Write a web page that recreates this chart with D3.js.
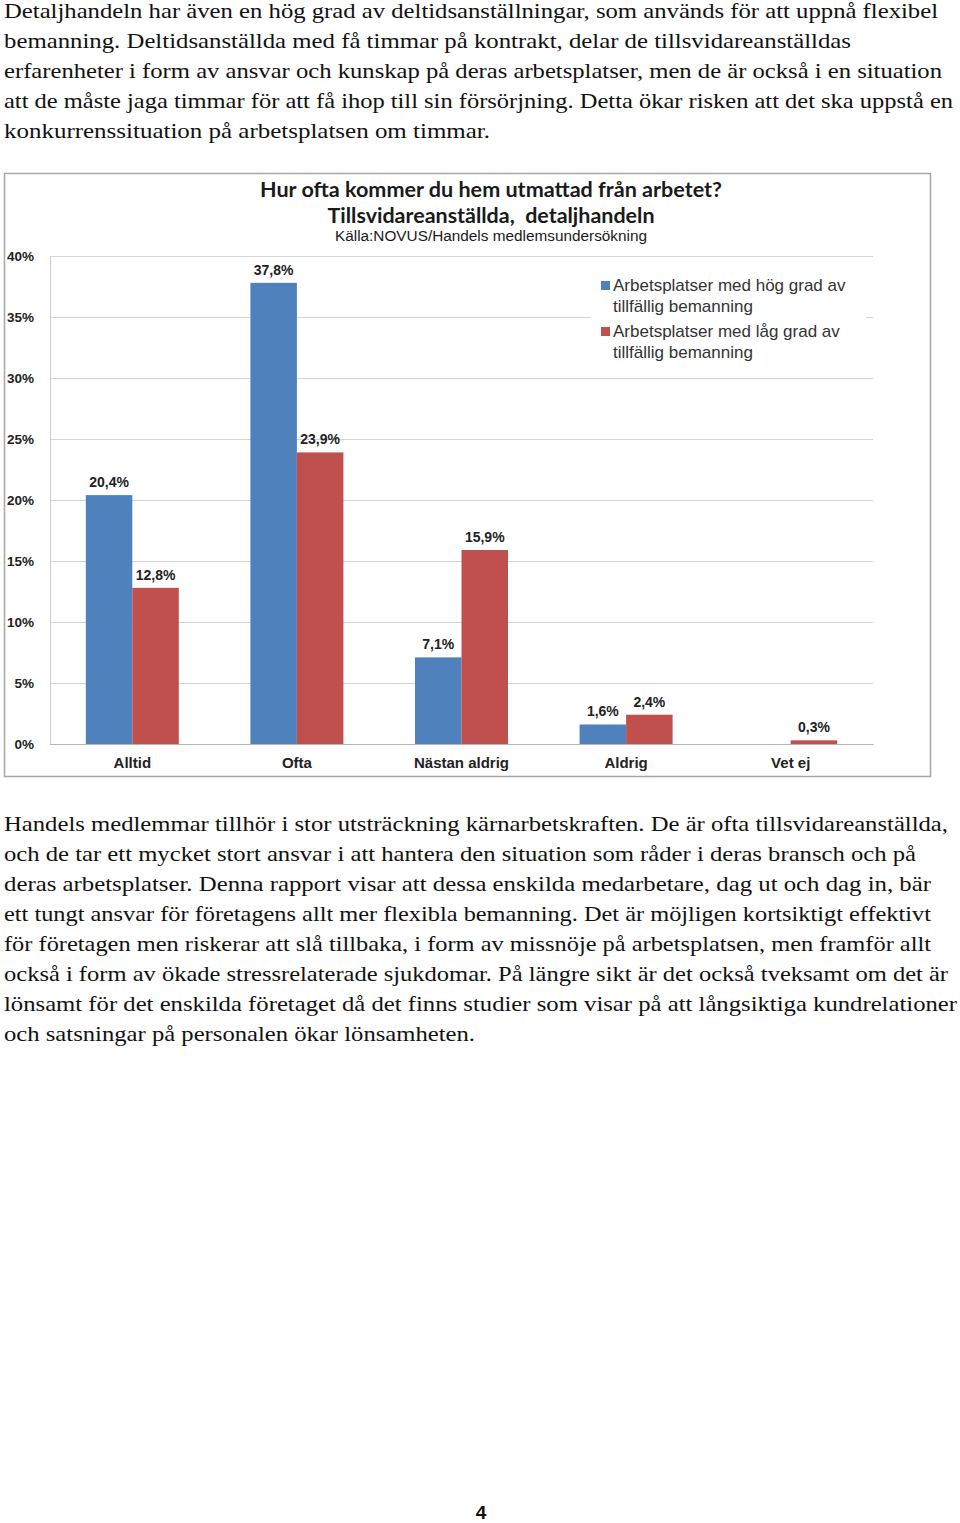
<!DOCTYPE html>
<html>
<head>
<meta charset="utf-8">
<script src="https://cdn.jsdelivr.net/npm/d3@7"></script>
<style>
  html, body { margin: 0; padding: 0; background: #fff; }
  svg { display: block; }
</style>
</head>
<body>
<div id="page"></div>
<script>
// ---------- data ----------
const categories = ["Alltid", "Ofta", "Nästan aldrig", "Aldrig", "Vet ej"];
const seriesKeys = ["hog", "lag"];
const hogValues = [20.4, 37.8, 7.1, 1.6, null];
const lagValues = [12.8, 23.9, 15.9, 2.4, 0.3];
const yTicks = [0, 5, 10, 15, 20, 25, 30, 35, 40];
const seriesColors = ["#4f81bd", "#c0504d"];
const legendLines = [
  ["Arbetsplatser med hög grad av", "tillfällig bemanning"],
  ["Arbetsplatser med låg grad av", "tillfällig bemanning"]
];
const titleLines = ["Hur ofta kommer du hem utmattad från arbetet?", "Tillsvidareanställda,  detaljhandeln"];
const sourceText = "Källa:NOVUS/Handels medlemsundersökning";
const introLines = [
  "Detaljhandeln har även en hög grad av deltidsanställningar, som används för att uppnå flexibel",
  "bemanning. Deltidsanställda med få timmar på kontrakt, delar de tillsvidareanställdas",
  "erfarenheter i form av ansvar och kunskap på deras arbetsplatser, men de är också i en situation",
  "att de måste jaga timmar för att få ihop till sin försörjning. Detta ökar risken att det ska uppstå en",
  "konkurrenssituation på arbetsplatsen om timmar."
];
const outroLines = [
  "Handels medlemmar tillhör i stor utsträckning kärnarbetskraften. De är ofta tillsvidareanställda,",
  "och de tar ett mycket stort ansvar i att hantera den situation som råder i deras bransch och på",
  "deras arbetsplatser. Denna rapport visar att dessa enskilda medarbetare, dag ut och dag in, bär",
  "ett tungt ansvar för företagens allt mer flexibla bemanning. Det är möjligen kortsiktigt effektivt",
  "för företagen men riskerar att slå tillbaka, i form av missnöje på arbetsplatsen, men framför allt",
  "också i form av ökade stressrelaterade sjukdomar. På längre sikt är det också tveksamt om det är",
  "lönsamt för det enskilda företaget då det finns studier som visar på att långsiktiga kundrelationer",
  "och satsningar på personalen ökar lönsamheten."
];
const introWidths = [934, 847, 938, 949, 486];
const outroWidths = [944, 912, 927, 927, 927, 944, 953, 471];
const pageNumber = "4";

// ---------- layout ----------
const W = 960, H = 1523;
const svg = d3.select("#page").append("svg").attr("width", W).attr("height", H);
svg.append("rect").attr("width", W).attr("height", H).attr("fill", "#fff");

const serif = "'Liberation Serif', 'DejaVu Serif', serif";
const sans = "'Liberation Sans', Arial, sans-serif";

function para(lines, widths, y0) {
  svg.append("g").selectAll("text").data(lines).join("text")
    .attr("x", 4)
    .attr("y", (d, i) => y0 + i * 30)
    .attr("font-family", serif)
    .attr("font-size", 22)
    .attr("fill", "#111")
    .attr("textLength", (d, i) => widths[i])
    .attr("lengthAdjust", "spacingAndGlyphs")
    .text(d => d);
}
para(introLines, introWidths, 18);
para(outroLines, outroWidths, 831);

// chart frame
svg.append("rect")
  .attr("x", 4.5).attr("y", 173.5).attr("width", 926).attr("height", 603)
  .attr("fill", "#fff").attr("stroke", "#a6a6a6").attr("stroke-width", 1.5);

const plot = { left: 50, right: 873, top: 256, bottom: 744 };

const x0 = d3.scaleBand().domain(categories)
  .range([plot.left, plot.right]).paddingInner(0.435).paddingOuter(0.2175);
const x1 = d3.scaleBand().domain(seriesKeys).range([0, x0.bandwidth()]).padding(0);
const y = d3.scaleLinear().domain([0, 40]).range([plot.bottom, plot.top]);

// gridlines + y axis
const yAxis = svg.append("g").attr("transform", `translate(${plot.left},0)`)
  .call(d3.axisLeft(y).tickValues(yTicks).tickFormat(d => d + "%")
    .tickSize(-(plot.right - plot.left)).tickPadding(16));
yAxis.select(".domain").attr("stroke", "#c8ccd2");
yAxis.selectAll(".tick line").attr("stroke", "#cdd5df").attr("stroke-width", 1.2);
yAxis.selectAll(".tick text")
  .attr("font-family", sans).attr("font-size", 13.5).attr("font-weight", "bold").attr("fill", "#222");

// title
const cx = 491;
svg.append("text").attr("x", cx).attr("y", 197).attr("text-anchor", "middle")
  .attr("font-family", "Lato, 'Open Sans', sans-serif").attr("font-weight", "bold")
  .attr("font-size", 20.5).attr("fill", "#1a1a1a").attr("textLength", 462).attr("lengthAdjust", "spacingAndGlyphs")
  .text(titleLines[0]);
svg.append("text").attr("x", cx).attr("y", 223).attr("text-anchor", "middle")
  .attr("font-family", "Lato, 'Open Sans', sans-serif").attr("font-weight", "bold")
  .attr("font-size", 20.5).attr("fill", "#1a1a1a").attr("textLength", 327).attr("lengthAdjust", "spacingAndGlyphs")
  .attr("xml:space", "preserve")
  .text(titleLines[1]);
svg.append("text").attr("x", cx).attr("y", 241).attr("text-anchor", "middle")
  .attr("font-family", sans).attr("font-size", 14).attr("fill", "#1a1a1a")
  .attr("textLength", 312).attr("lengthAdjust", "spacingAndGlyphs")
  .text(sourceText);

// bars
const rows = categories.map((c, i) => ({ cat: c, values: [
  { key: "hog", v: hogValues[i], color: seriesColors[0] },
  { key: "lag", v: lagValues[i], color: seriesColors[1] }
].filter(d => d.v != null) }));

const fmt = d3.formatLocale({ decimal: ",", thousands: " ", grouping: [3], currency: ["", " kr"] }).format(".1f");

const groups = svg.append("g").selectAll("g").data(rows).join("g")
  .attr("transform", d => `translate(${x0(d.cat)},0)`);
groups.selectAll("rect").data(d => d.values).join("rect")
  .attr("x", d => x1(d.key)).attr("width", x1.bandwidth())
  .attr("y", d => y(d.v)).attr("height", d => y(0) - y(d.v))
  .attr("fill", d => d.color);
groups.selectAll("text").data(d => d.values).join("text")
  .attr("x", d => x1(d.key) + x1.bandwidth() / 2)
  .attr("y", d => y(d.v) - 8)
  .attr("text-anchor", "middle")
  .attr("font-family", sans).attr("font-size", 14).attr("font-weight", "bold").attr("fill", "#222")
  .text(d => fmt(d.v) + "%");

// x axis
const xAxis = svg.append("g").attr("transform", `translate(0,${plot.bottom})`)
  .call(d3.axisBottom(x0).tickSize(0).tickPadding(13));
xAxis.select(".domain").attr("stroke", "#b4b4b4").attr("stroke-width", 1.2);
xAxis.selectAll(".tick text")
  .attr("font-family", sans).attr("font-size", 15).attr("font-weight", "bold").attr("fill", "#222");

// legend
const leg = svg.append("g");
leg.append("rect").attr("x", 591).attr("y", 270).attr("width", 275).attr("height", 92).attr("fill", "#fff");
legendLines.forEach((lines, i) => {
  const by = 291 + i * 46;
  leg.append("rect").attr("x", 601).attr("y", by - 10).attr("width", 9).attr("height", 9).attr("fill", seriesColors[i]);
  lines.forEach((t, j) => {
    leg.append("text").attr("x", 613).attr("y", by + j * 21)
      .attr("font-family", sans).attr("font-size", 17).attr("fill", "#333")
      .text(t);
  });
});

// page number
svg.append("text").attr("x", 481).attr("y", 1519).attr("text-anchor", "middle")
  .attr("font-family", sans).attr("font-weight", "bold").attr("font-size", 19).attr("fill", "#111")
  .text(pageNumber);
</script>
</body>
</html>
